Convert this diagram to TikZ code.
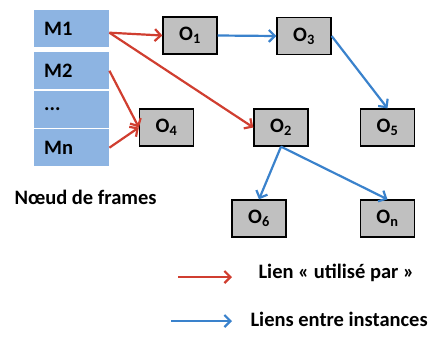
\documentclass[tikz,border=0pt]{standalone}
\usepackage{fontspec}
\setmainfont{Carlito}
\usepackage{tikz}
\usetikzlibrary{matrix}
\usetikzlibrary{arrows.meta}
\definecolor{lienrouge}{RGB}{208,62,48}
\definecolor{lienbleu}{RGB}{58,130,204}
\definecolor{framebleu}{RGB}{141,180,226}
\definecolor{objgris}{RGB}{192,192,192}
\tikzset{
	obj/.style={draw=black,line width=1.3pt,fill=objgris,minimum width=54pt,minimum height=37pt,inner sep=0pt},
	utilise/.style={->,draw=lienrouge,line width=2.2pt},
	instance/.style={->,draw=lienbleu,line width=2.2pt}
}

\begin{document}
\begin{tikzpicture}[x=1pt,y=-1pt,>={Straight Barb[length=6pt,width=12pt]},font=\fontsize{20.5}{24}\selectfont\bfseries]
		\useasboundingbox (0,0) rectangle (436,338);
		\matrix (frames) [%
		matrix of nodes,
		anchor=north west,
		row sep=1.5pt,
		inner sep=0pt,
		nodes={fill=framebleu,text width=55pt,inner xsep=10pt,inner ysep=0pt,minimum height=37pt,align=left}
		] at (34,10)
		{
			M1 \\[3.5pt]
			M2 \\
			... \\
			Mn \\
		};
		\node[anchor=west] (nframes) at (11,197) {Nœud de frames};
		% objets
		\node[obj] (o1) at (190,35.5) {O\textsubscript{1}};
		\node[obj] (o3) at (304,36) {O\textsubscript{3}};
		\node[obj] (o4) at (166.5,127.5) {O\textsubscript{4}};
		\node[obj] (o2) at (281,127.5) {O\textsubscript{2}};
		\node[obj] (o5) at (387.5,127.5) {O\textsubscript{5}};
		\node[obj] (o6) at (259,218.5) {O\textsubscript{6}};
		\node[obj] (on) at (387.5,218.5) {O\textsubscript{n}};
		\draw[utilise] ([yshift=-4pt]frames-1-1.east) -- (o1.west);
		\draw[utilise] ([yshift=-4pt]frames-1-1.east) -- (o2.west);
		\draw[utilise] (frames-2-1.east) -- (o4.west);
		\draw[utilise] (frames-4-1.east) -- (o4.west);
		\draw[instance] (o1.east) -- (o3.west);
		\draw[instance] (o3.east) -- (o5.north);
		\draw[instance] (o2.south) -- (o6.north);
		\draw[instance] (o2.south) -- (on.north);
		% legende
		\node[anchor=west] (legrouge) at (255,273) {Lien « utilisé par »};
		\node[anchor=west] (legbleu) at (247,319) {Liens entre instances};
		\coordinate (rdebut) at (178,277);
		\coordinate (bdebut) at (171,321);
		\draw[utilise] (rdebut) -- (232,277);
		\draw[instance] (bdebut) -- (232,321);
		\end{tikzpicture}
\end{document}
